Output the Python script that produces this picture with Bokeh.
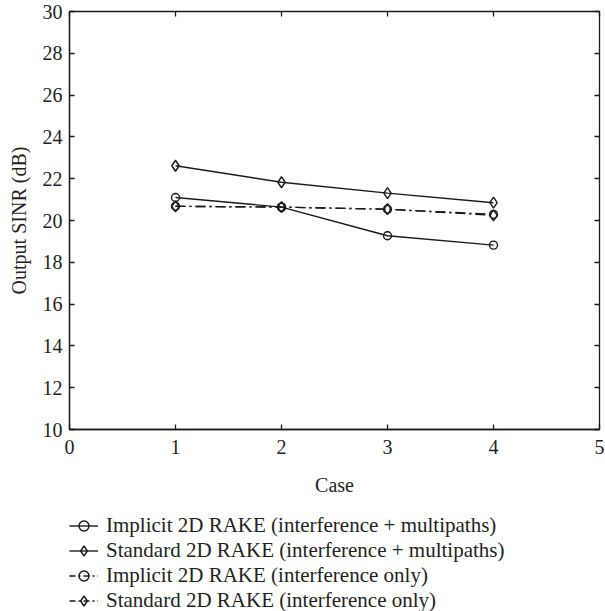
from bokeh.plotting import figure
from bokeh.layouts import column
from bokeh.models import (Legend, LegendItem, LinearAxis, FixedTicker, Range1d)
from bokeh.embed import file_html
from bokeh.resources import INLINE

cases = [1, 2, 3, 4]
implicit_multipath = [21.10, 20.64, 19.27, 18.82]
standard_multipath = [22.62, 21.83, 21.31, 20.85]
implicit_interf_only = [20.68, 20.64, 20.54, 20.29]
standard_interf_only = [20.68, 20.64, 20.54, 20.25]

x_ticks = [0, 1, 2, 3, 4, 5]
y_ticks = [10, 12, 14, 16, 18, 20, 22, 24, 26, 28, 30]

labels = [
    "Implicit 2D RAKE (interference + multipaths)",
    "Standard 2D RAKE (interference + multipaths)",
    "Implicit 2D RAKE (interference only)",
    "Standard 2D RAKE (interference only)",
]

FONT = "Liberation Serif"
TXT = "#231f20"
INK = "#1a1a1a"
LW = 1.4
DASH = "10 4 2 4"

p = figure(width=605, height=500, output_backend="svg", toolbar_location=None,
           x_range=Range1d(0, 5), y_range=Range1d(10, 30),
           min_border_left=69, min_border_right=6, min_border_top=11,
           min_border_bottom=71)
p.grid.visible = False
p.outline_line_color = INK
p.outline_line_width = 1.3

for ax in (p.xaxis[0], p.yaxis[0]):
    ax.major_tick_in = 5
    ax.major_tick_out = 0
    ax.minor_tick_line_color = None
    ax.axis_line_color = INK
    ax.major_tick_line_color = INK
    ax.major_tick_line_width = 1.3
    ax.axis_line_width = 1.3
    ax.major_label_text_font = FONT
    ax.major_label_text_font_size = "20px"
    ax.major_label_text_color = TXT
    ax.axis_label_text_font = FONT
    ax.axis_label_text_font_size = "20px"
    ax.axis_label_text_font_style = "normal"
    ax.axis_label_text_color = TXT

p.xaxis[0].ticker = FixedTicker(ticks=x_ticks)
p.yaxis[0].ticker = FixedTicker(ticks=y_ticks)
p.xaxis[0].axis_label = "Case"
p.yaxis[0].axis_label = "Output SINR (dB)"
p.xaxis[0].major_label_standoff = 10
p.yaxis[0].major_label_standoff = 7
p.xaxis[0].axis_label_standoff = 17
p.yaxis[0].axis_label_standoff = 10

for loc, ticks in (("above", x_ticks), ("right", y_ticks)):
    ax = LinearAxis(ticker=FixedTicker(ticks=ticks))
    ax.major_tick_in = 5
    ax.major_tick_out = 0
    ax.minor_tick_line_color = None
    ax.axis_line_color = None
    ax.major_tick_line_color = INK
    ax.major_tick_line_width = 1.3
    ax.major_label_overrides = {t: "" for t in ticks}
    ax.major_label_standoff = 0
    p.add_layout(ax, loc)

series = [
    (implicit_multipath, "circle", 8, None),
    (standard_multipath, "diamond", 11, None),
    (implicit_interf_only, "circle", 8, DASH),
    (standard_interf_only, "diamond", 11, DASH),
]

for ys, mk, sz, dash in series:
    kw = dict(line_dash=dash) if dash else {}
    p.line(cases, ys, line_color=INK, line_width=LW, **kw)
    p.scatter(cases, ys, marker=mk, size=sz, fill_color=None,
              line_color=INK, line_width=LW)

# legend panel below the chart
q = figure(width=605, height=111, output_backend="svg", toolbar_location=None,
           x_range=Range1d(0, 5), y_range=Range1d(10, 30),
           min_border_left=0, min_border_right=0, min_border_top=0,
           min_border_bottom=0)
q.axis.visible = False
q.grid.visible = False
q.outline_line_color = None

items = []
for (ys, mk, sz, dash), lab in zip(series, labels):
    kw = dict(line_dash="6 3 2 3") if dash else {}
    rl = q.line(cases, ys, line_color=INK, line_width=LW, visible=False, **kw)
    rm = q.scatter(cases, ys, marker=mk, size=sz - 1, fill_color=None,
                   line_color=INK, line_width=LW, visible=False)
    items.append(LegendItem(label=lab, renderers=[rl, rm]))

legend = Legend(items=items, location=(0, -2))
legend.padding = 0
legend.margin = 0
legend.spacing = 0
legend.glyph_width = 29
legend.glyph_height = 25
legend.label_height = 25
legend.label_standoff = 8
legend.label_text_font = FONT
legend.label_text_font_size = "21px"
legend.label_text_color = TXT
legend.border_line_color = None
legend.background_fill_alpha = 0
legend.inactive_fill_alpha = 0
q.add_layout(legend, "center")

layout = column(p, q, spacing=0)
open("out.html", "w").write(file_html(layout, INLINE))
